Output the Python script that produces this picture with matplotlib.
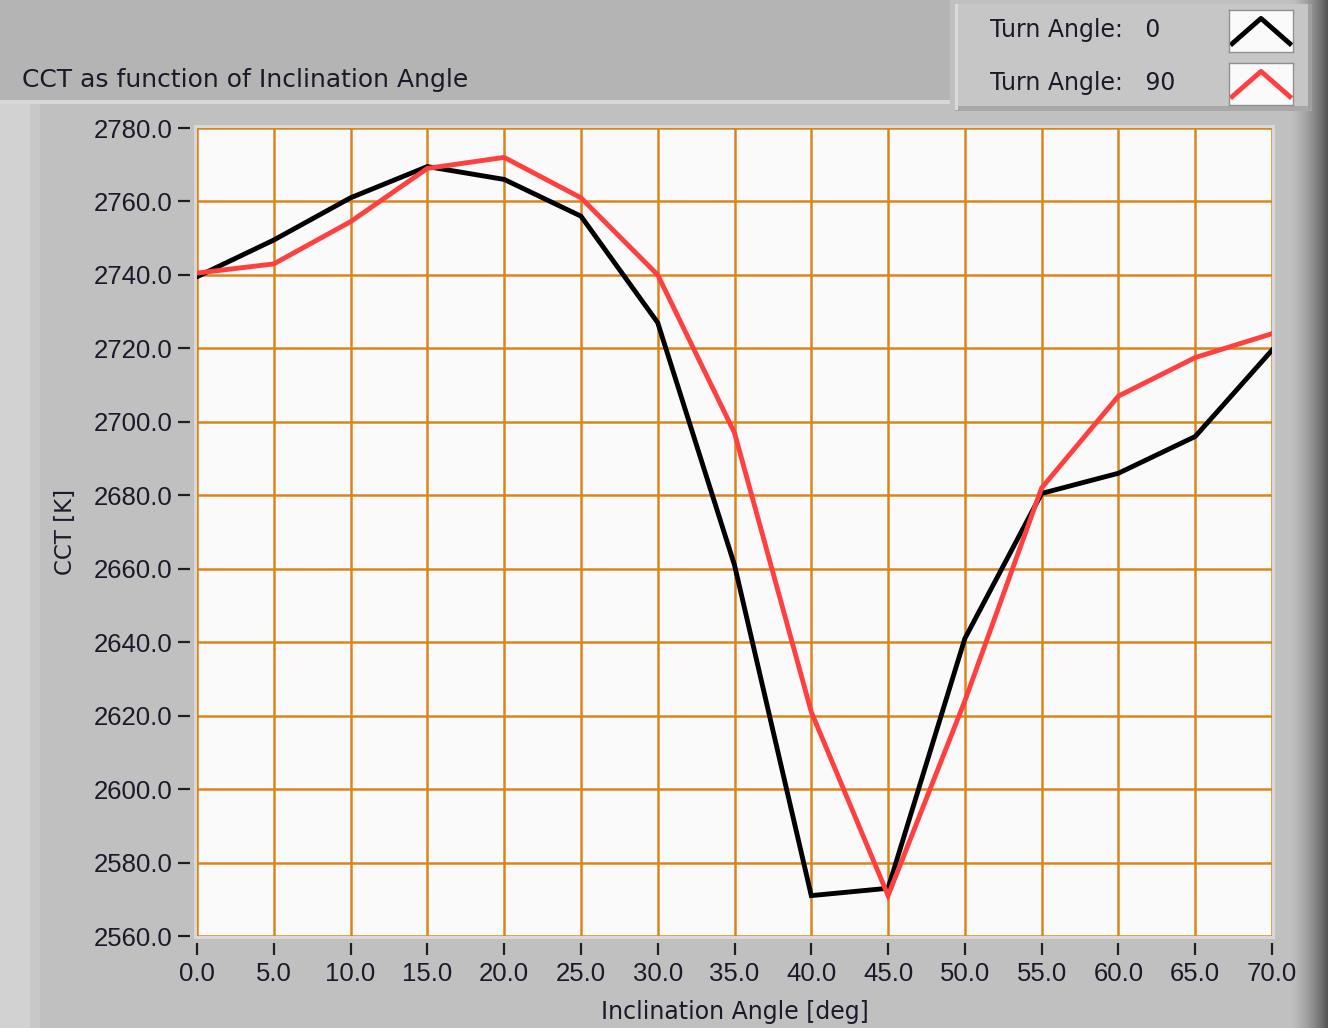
import numpy as np
import matplotlib
matplotlib.use('Agg')
import matplotlib.pyplot as plt
from matplotlib.patches import Rectangle

plt.rcParams['font.family'] = ['DejaVu Sans']

# data
incl = [0, 5, 10, 15, 20, 25, 30, 35, 40, 45, 50, 55, 60, 65, 70]
cct_turn0 = [2739.5, 2749.5, 2761, 2769.5, 2766, 2756, 2727, 2661, 2571, 2573,
             2641, 2680.5, 2686, 2696, 2719.5]
cct_turn90 = [2740.5, 2743, 2754.5, 2769, 2772, 2761, 2740, 2697, 2621, 2571,
              2624, 2682, 2707, 2717.5, 2724]
series_names = ['Turn Angle:   0', 'Turn Angle:   90']
series_colors = ['#000000', '#ff4040']

xticks = np.arange(0, 71, 5)
yticks = np.arange(2560, 2781, 20)

W, H = 1328, 1028
fig = plt.figure(figsize=(W / 100, H / 100), dpi=100)
fig.patch.set_facecolor('#c0c0c0')
txt = '#1a1a2a'

def px(x0, y0, x1, y1):
    # pixel box -> figure fraction rect
    return (x0 / W, 1 - y1 / H, (x1 - x0) / W, (y1 - y0) / H)

# background axes for the LabVIEW style frame
bg = fig.add_axes([0, 0, 1, 1])
bg.set_zorder(-10)
bg.set_xlim(0, W)
bg.set_ylim(H, 0)
bg.axis('off')

def box(x0, y0, x1, y1, color):
    bg.add_patch(Rectangle((x0, y0), x1 - x0, y1 - y0, facecolor=color, edgecolor='none'))

box(0, 0, W, H, '#c0c0c0')
box(0, 0, 30, H, '#d2d2d2')
box(30, 0, 40, H, '#c8c8c8')
# right edge gradient
grad = np.linspace(0, 1, 38)
for i, g in enumerate(grad):
    v = 0.75 - 0.42 * g ** 1.5
    box(1290 + i, 0, 1291 + i, H, (v, v, v))
box(0, 0, 950, 100, '#b4b4b4')
box(0, 100, 950, 104, '#d8d8d8')
box(955, 4, 1312, 110, '#c6c6c6')
box(955, 106, 1312, 111, '#a8a8a8')
box(1308, 4, 1312, 110, '#a0a0a0')
box(955, 4, 958, 110, '#dadada')
box(194, 125, 1275, 939, '#d8d8d8')

ax = fig.add_axes(px(197, 128, 1272, 936))
ax.set_facecolor('#fafafa')
for x, y, c in zip([incl, incl], [cct_turn0, cct_turn90], series_colors):
    ax.plot(x, y, color=c, lw=3.5, solid_joinstyle='miter', zorder=3)

ax.set_xlim(0, 70)
ax.set_ylim(2560, 2780)
ax.set_xticks(xticks)
ax.set_yticks(yticks)
ax.set_xticklabels(['%.1f' % v for v in xticks])
ax.set_yticklabels(['%.1f' % v for v in yticks])
ax.grid(True, color='#d8861c', lw=1.8, zorder=1)
ax.set_axisbelow(True)
for s in ax.spines.values():
    s.set_visible(False)
ax.spines['left'].set_position(('outward', 5))
ax.spines['bottom'].set_position(('outward', 5))
ax.tick_params(axis='both', direction='out', length=8.5, width=1.6, color='#202020',
               labelsize=18.5, labelcolor=txt)
for lab in ax.get_xticklabels() + ax.get_yticklabels():
    lab.set_family(['Liberation Sans', 'DejaVu Sans'])
ax.tick_params(axis='y', pad=4)
ax.tick_params(axis='x', pad=5)
ax.set_xlabel('Inclination Angle [deg]', fontsize=17, color=txt, labelpad=10)
ax.set_ylabel('CCT [K]', fontsize=16.5, color=txt, labelpad=12)

fig.text(22 / W, 1 - 80 / H, 'CCT as function of Inclination Angle', fontsize=18,
         color=txt, va='center', ha='left')

# legend
rows = [(10, 52), (63, 105)]
for (y0, y1), name, c in zip(rows, series_names, series_colors):
    fig.text(990 / W, 1 - ((y0 + y1) / 2 - 1) / H, name, fontsize=17,
             color=txt, va='center', ha='left')
    sw = fig.add_axes(px(1229, y0, 1293, y1))
    sw.set_facecolor('#fafafa')
    sw.plot([0.05, 0.5, 0.95], [0.2, 0.8, 0.2], color=c, lw=3.5)
    sw.set_xlim(0, 1)
    sw.set_ylim(0, 1)
    sw.set_xticks([])
    sw.set_yticks([])
    for s in sw.spines.values():
        s.set_color('#909090')
        s.set_linewidth(1)

fig.savefig('out.png', dpi=100, facecolor=fig.get_facecolor())
